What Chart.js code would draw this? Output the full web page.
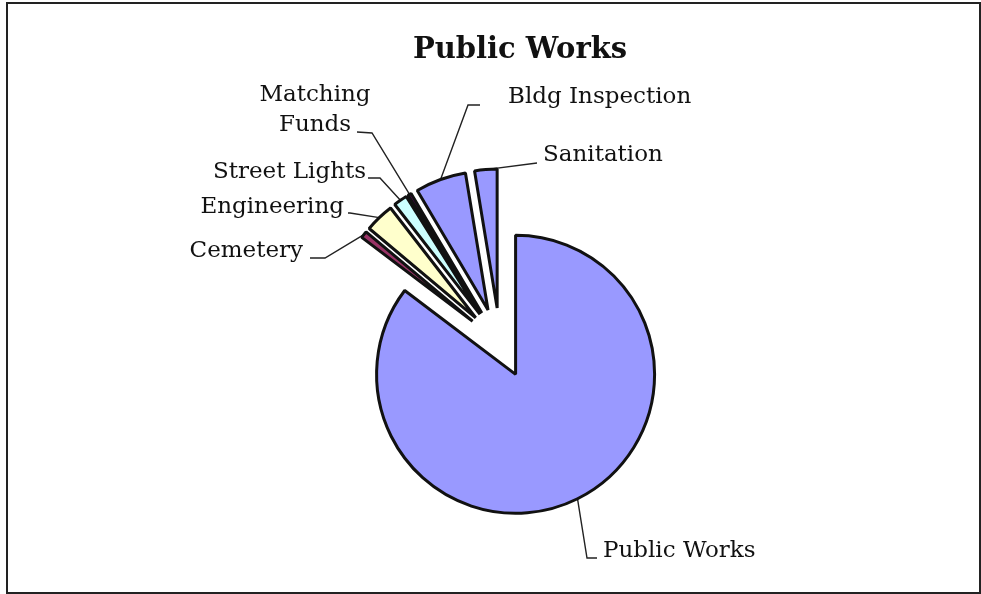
<!DOCTYPE html>
<html>
<head>
<meta charset="utf-8">
<title>Public Works</title>
<script src="https://cdn.jsdelivr.net/npm/chart.js@4.4.0/dist/chart.umd.min.js"></script>
<style>
  html, body { margin: 0; padding: 0; background: #fff; }
  #wrap { width: 981px; height: 594px; }
</style>
</head>
<body>
<div id="wrap"><canvas id="pieChart"></canvas></div>
<script>
// Department shares of the Public Works budget (percent)
const departments = ['Public Works', 'Cemetery', 'Engineering', 'Street Lights', 'Matching Funds', 'Bldg Inspection', 'Sanitation'];
const budgetShare = [85.3, 0.8, 3.4, 1.6, 0.4, 5.9, 2.6];
const sliceColors = ['#9999ff', '#993366', '#ffffcc', '#ccffff', '#660066', '#9999ff', '#9999ff'];
const explodeBy = [35, 35, 35, 35, 35, 35, 35]; // px, pulled out along the bisector

// Callout layout: elbow of the leader line, its end, and the text anchor
const callouts = [
  { elbow: [587, 558], end: [597, 558], at: [603, 551], align: 'left' },
  { elbow: [325, 258], end: [310, 258], at: [303, 251], align: 'right' },
  { elbow: [350, 213], end: [348, 213], at: [344, 207], align: 'right' },
  { elbow: [380, 178], end: [368, 178], at: [366, 172], align: 'right' },
  { elbow: [372, 133], end: [357, 132], at: [315, 110], align: 'center', wrap: true },
  { elbow: [468, 105], end: [480, 105], at: [508, 97], align: 'left' },
  { elbow: [537, 163], end: [537, 163], at: [543, 155], align: 'left' }
];

const labelFont = '23px "DejaVu Serif", "Liberation Serif", serif';

function midAngle(arc) {
  return (arc.startAngle + arc.endAngle) / 2;
}

// Move the exploded slices out before drawing, put them back afterwards
const explodePlugin = {
  id: 'explode',
  beforeDatasetDraw(chart, args) {
    args.meta.data.forEach((arc, i) => {
      const a = midAngle(arc);
      arc._home = { x: arc.x, y: arc.y };
      arc.x += Math.cos(a) * explodeBy[i];
      arc.y += Math.sin(a) * explodeBy[i];
    });
  },
  afterDatasetDraw(chart, args) {
    args.meta.data.forEach(arc => {
      if (arc._home) {
        arc.x = arc._home.x;
        arc.y = arc._home.y;
      }
    });
  }
};

// Leader lines, callout labels, title and outer frame
const calloutPlugin = {
  id: 'callouts',
  beforeDatasetsDraw(chart) {
    const ctx = chart.ctx;
    const arcs = chart.getDatasetMeta(0).data;
    ctx.save();
    ctx.strokeStyle = '#222';
    ctx.lineWidth = 1.4;
    arcs.forEach((arc, i) => {
      const a = midAngle(arc);
      const r = arc.outerRadius + explodeBy[i];
      const c = callouts[i];
      ctx.beginPath();
      ctx.moveTo(arc.x + Math.cos(a) * r, arc.y + Math.sin(a) * r);
      ctx.lineTo(c.elbow[0], c.elbow[1]);
      ctx.lineTo(c.end[0], c.end[1]);
      ctx.stroke();
    });
    ctx.restore();
  },
  afterDraw(chart) {
    const ctx = chart.ctx;
    ctx.save();
    ctx.fillStyle = '#111';
    ctx.font = labelFont;
    ctx.textBaseline = 'middle';
    departments.forEach((name, i) => {
      const c = callouts[i];
      ctx.textAlign = c.align;
      const lines = c.wrap ? name.split(' ') : [name];
      const step = 30;
      const top = c.at[1] - (lines.length - 1) * step / 2;
      lines.forEach((ln, k) => ctx.fillText(ln, c.at[0], top + k * step));
    });

    ctx.font = 'bold 29px "DejaVu Serif", serif';
    ctx.textAlign = 'center';
    ctx.textBaseline = 'alphabetic';
    ctx.fillText('Public Works', 520, 58);

    ctx.strokeStyle = '#222';
    ctx.lineWidth = 2;
    ctx.strokeRect(7, 3, 973, 590);
    ctx.restore();
  }
};

new Chart(document.getElementById('pieChart'), {
  type: 'pie',
  data: {
    labels: departments,
    datasets: [{
      data: budgetShare,
      backgroundColor: sliceColors,
      borderColor: '#111',
      borderWidth: 3
    }]
  },
  options: {
    responsive: true,
    maintainAspectRatio: false,
    animation: false,
    radius: 139,
    layout: { padding: { left: 119, right: 100, top: 142, bottom: 50 } },
    plugins: {
      legend: { display: false },
      tooltip: { enabled: false },
      title: { display: false }
    },
    events: []
  },
  plugins: [explodePlugin, calloutPlugin]
});
</script>
</body>
</html>
